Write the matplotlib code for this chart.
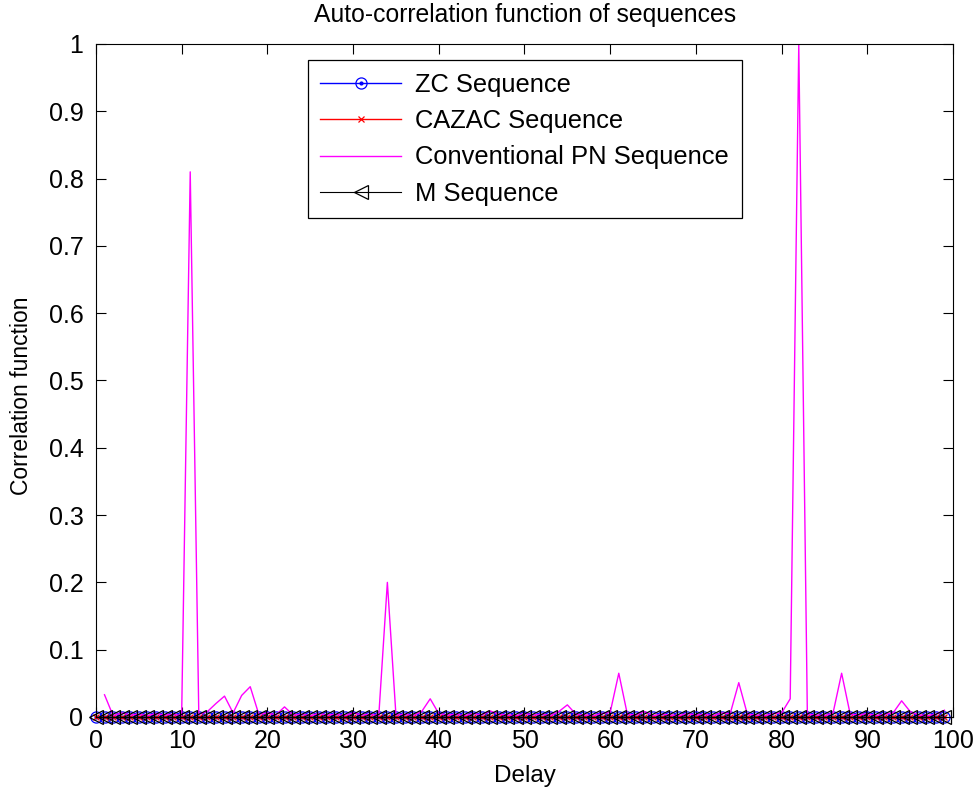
import numpy as np
import matplotlib
matplotlib.use('Agg')
import matplotlib.pyplot as plt
from matplotlib.legend_handler import HandlerTuple

plt.rcParams['font.family'] = ['Liberation Sans', 'DejaVu Sans']

# delays for the three near-zero sequences
delay = list(range(0, 100))
zc_corr = [0.0] * 100
cazac_corr = [0.0] * 100
m_corr = [0.0] * 100

# conventional PN sequence, delays 1..99
pn_delay = list(range(1, 100))
pn_corr = [
    0.033, 0.002, 0.006, 0.003, 0.004, 0.002, 0.005, 0.003, 0.004, 0.002,
    0.81, 0.004, 0.008, 0.020, 0.031, 0.006, 0.032, 0.045, 0.004, 0.006,
    0.003, 0.015, 0.003, 0.004, 0.002, 0.005, 0.003, 0.004, 0.002, 0.006,
    0.003, 0.004, 0.002, 0.200, 0.003, 0.004, 0.002, 0.008, 0.027, 0.005,
    0.003, 0.004, 0.002, 0.005, 0.003, 0.009, 0.004, 0.003, 0.002, 0.005,
    0.003, 0.004, 0.002, 0.008, 0.018, 0.004, 0.003, 0.002, 0.005, 0.007,
    0.065, 0.004, 0.003, 0.008, 0.002, 0.004, 0.003, 0.002, 0.005, 0.003,
    0.004, 0.002, 0.006, 0.005, 0.051, 0.004, 0.003, 0.002, 0.005, 0.006,
    0.027, 1.000, 0.004, 0.003, 0.002, 0.006, 0.065, 0.004, 0.003, 0.005,
    0.002, 0.004, 0.006, 0.024, 0.008, 0.003, 0.002, 0.004, 0.010,
]

fig = plt.figure(figsize=(9.79, 7.94), dpi=100)
ax = fig.add_axes([0.098, 0.097, 0.8755, 0.8476])

zc_ring, = ax.plot(delay, zc_corr, '-o', color='blue', lw=1.0, ms=8,
                   mfc='none', mew=0.9, clip_on=False)
zc_dot, = ax.plot(delay, zc_corr, '.', color='blue', ms=4, clip_on=False)
cazac, = ax.plot(delay, cazac_corr, '-x', color='red', lw=1.0, ms=5,
                 mew=0.9, clip_on=False)
pn, = ax.plot(pn_delay, pn_corr, '-', color='magenta', lw=1.0)
mseq, = ax.plot(delay, m_corr, '-<', color='black', lw=0.8, ms=9.5,
                mfc='none', mew=0.9, clip_on=False)

ax.set_xlim(0, 100)
ax.set_ylim(0, 1)
ax.set_xticks(np.arange(0, 101, 10))
ax.set_yticks(np.arange(0, 1.01, 0.1))
ax.set_yticklabels(['0', '0.1', '0.2', '0.3', '0.4', '0.5', '0.6', '0.7',
                    '0.8', '0.9', '1'])
ax.tick_params(direction='in', top=True, right=True, length=7, width=0.8,
               labelsize=18)
ax.tick_params(axis='x', pad=9)
ax.tick_params(axis='y', pad=9)
for s in ax.spines.values():
    s.set_linewidth(0.8)

fig.text(0.536, 1 - 15 / 794, 'Auto-correlation function of sequences',
         fontsize=17.8, ha='center', va='center')
ax.set_xlabel('Delay', fontsize=17.5, labelpad=8)
ax.set_ylabel('Correlation function', fontsize=16.5)
ax.yaxis.set_label_coords(-0.074, 0.477)

leg = ax.legend([(zc_ring, zc_dot), cazac, pn, mseq],
                ['ZC Sequence', 'CAZAC Sequence', 'Conventional PN Sequence',
                 'M Sequence'],
                handler_map={tuple: HandlerTuple(ndivide=1)},
                loc='upper left', bbox_to_anchor=(0.247, 0.976),
                fontsize=18.4, fancybox=False, framealpha=1, edgecolor='black',
                borderaxespad=0, handlelength=3.15, labelspacing=0.48,
                borderpad=0.5, handletextpad=0.55)
leg.get_frame().set_linewidth(0.9)

fig.savefig('out.png', dpi=100)
